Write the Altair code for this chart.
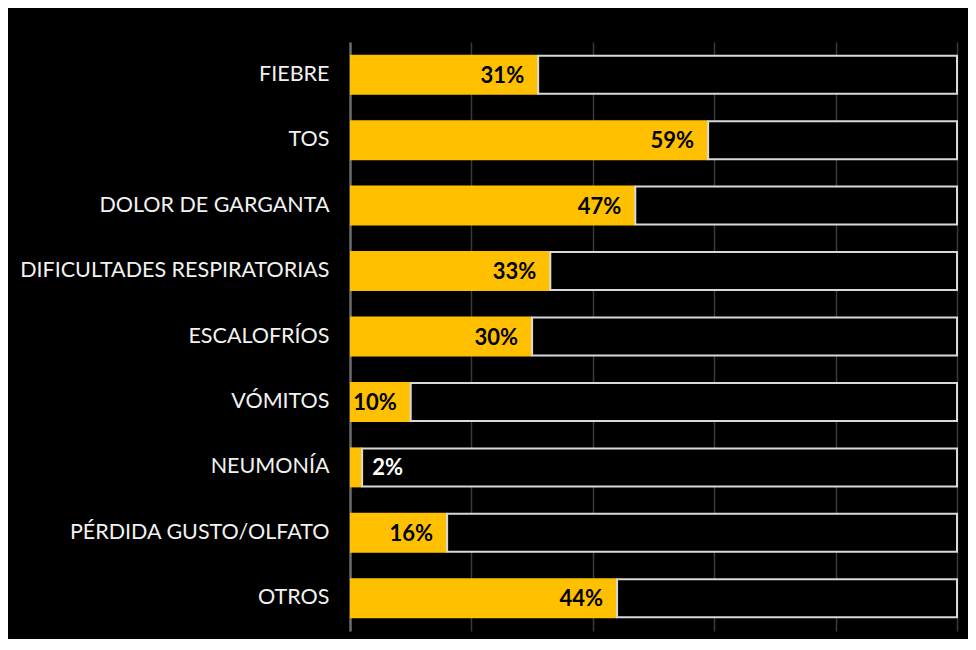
import altair as alt
import pandas as pd

categories = ["FIEBRE", "TOS", "DOLOR DE GARGANTA", "DIFICULTADES RESPIRATORIAS",
              "ESCALOFRÍOS", "VÓMITOS", "NEUMONÍA", "PÉRDIDA GUSTO/OLFATO", "OTROS"]
values = [31, 59, 47, 33, 30, 10, 2, 16, 44]
total = 100

df = pd.DataFrame({
    "cat": categories,
    "value": values,
    "total": [total] * len(values),
    "label": [f"{v}%" for v in values],
})

FONT = "Lato"

x_scale = alt.Scale(domain=[0, 100], nice=False, zero=True)
y_enc = alt.Y("cat:N", sort=categories, title=None,
              scale=alt.Scale(paddingInner=0, paddingOuter=0),
              axis=alt.Axis(labelColor="#f2f2f2", labelFontSize=21.5, labelFont=FONT,
                            labelPadding=21, ticks=False, domainColor="#6a6a6a",
                            domainWidth=2.5, grid=False, labelLimit=400))

x_axis = alt.Axis(labels=False, ticks=False, domain=False, title=None,
                  values=[0, 20, 40, 60, 80, 100], grid=True,
                  gridColor="#3a3a3a", gridWidth=1.5)

base = alt.Chart(df)

yellow = base.mark_bar(size=40, color="#FFC000").encode(
    x=alt.X("value:Q", scale=x_scale, axis=x_axis),
    y=y_enc,
)

rest = base.mark_bar(size=38, color="#000000", stroke="#d9d9d9", strokeWidth=2).encode(
    x=alt.X("value:Q", scale=x_scale),
    x2="total:Q",
    y=alt.Y("cat:N", sort=categories),
)

inside = base.transform_filter("datum.value >= 5").mark_text(
    align="right", baseline="middle", dx=-14, dy=1, font=FONT, fontSize=22,
    fontWeight="bold", color="#000000"
).encode(
    x=alt.X("value:Q", scale=x_scale),
    y=alt.Y("cat:N", sort=categories),
    text="label:N",
)

outside = base.transform_filter("datum.value < 5").mark_text(
    align="left", baseline="middle", dx=10, dy=1, font=FONT, fontSize=22,
    fontWeight="bold", color="#ffffff"
).encode(
    x=alt.X("value:Q", scale=x_scale),
    y=alt.Y("cat:N", sort=categories),
    text="label:N",
)

chart = alt.layer(yellow, rest, inside, outside).properties(
    width=607, height=589,
    background="#000000",
    padding={"left": 342, "top": 34, "right": 11, "bottom": 8},
    autosize=alt.AutoSizeParams(type="none"),
).configure_view(stroke=None)

chart.save("out.html", embed_options={"renderer": "svg", "actions": False})
